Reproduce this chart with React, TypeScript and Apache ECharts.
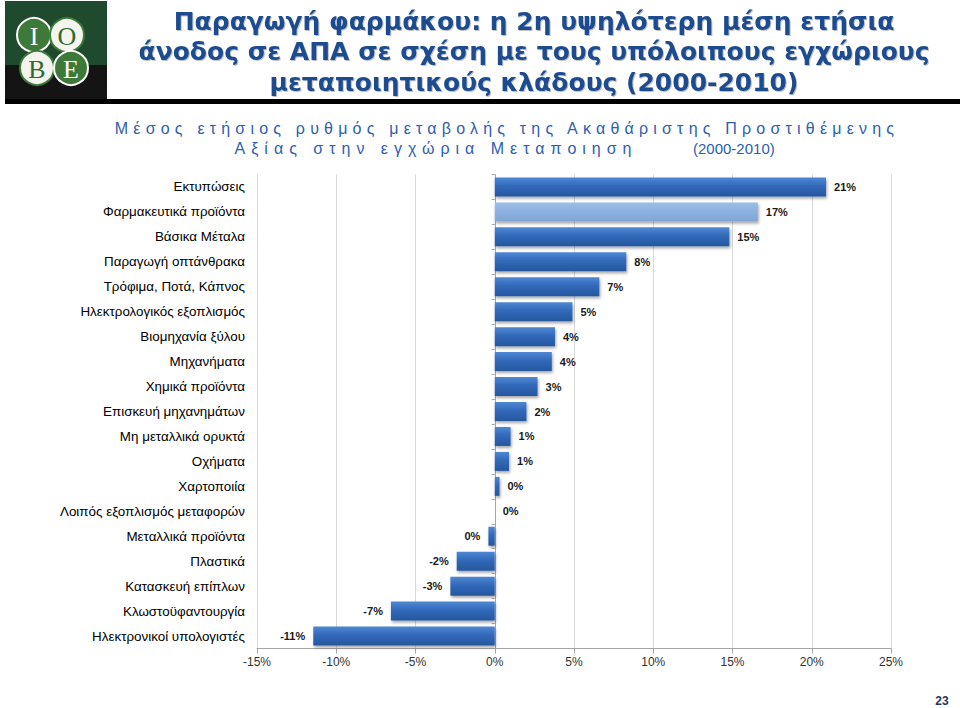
import { useEffect, useRef } from "react";
import * as echarts from "echarts";

const categories = [
  "Εκτυπώσεις",
  "Φαρμακευτικά προϊόντα",
  "Βάσικα Μέταλα",
  "Παραγωγή οπτάνθρακα",
  "Τρόφιμα, Ποτά, Κάπνος",
  "Ηλεκτρολογικός εξοπλισμός",
  "Βιομηχανία ξύλου",
  "Μηχανήματα",
  "Χημικά προϊόντα",
  "Επισκευή μηχανημάτων",
  "Μη μεταλλικά ορυκτά",
  "Οχήματα",
  "Χαρτοποιία",
  "Λοιπός εξοπλισμός μεταφορών",
  "Μεταλλικά προϊόντα",
  "Πλαστικά",
  "Κατασκευή επίπλων",
  "Κλωστοϋφαντουργία",
  "Ηλεκτρονικοί υπολογιστές",
];
const growth = [20.9, 16.6, 14.8, 8.3, 6.6, 4.9, 3.8, 3.6, 2.7, 2.0, 1.0, 0.9, 0.3, 0.0, -0.4, -2.4, -2.8, -6.55, -11.45];
const highlighted = "Φαρμακευτικά προϊόντα";
const xMin = -15;
const xMax = 25;
const xStep = 5;

const titleLines = [
  "Παραγωγή φαρμάκου: η 2η υψηλότερη μέση ετήσια",
  "άνοδος σε ΑΠΑ σε σχέση με τους υπόλοιπους εγχώριους",
  "μεταποιητικούς κλάδους (2000-2010)",
];
const subtitle1 = "Μέσος ετήσιος ρυθμός μεταβολής της Ακαθάριστης Προστιθέμενης";
const subtitle2 = "Αξίας στην εγχώρια Μεταποιηση";
const subtitlePeriod = "(2000-2010)";
const pageNumber = "23";

const fmt = (v: number) => {
  const r = Math.round(v);
  return (r === 0 ? 0 : r) + "%";
};

export default function App() {
  const ref = useRef<HTMLDivElement>(null);
  useEffect(() => {
    if (!ref.current) return;
    const chart = echarts.init(ref.current, null, { renderer: "svg" });

    const darkGrad = new echarts.graphic.LinearGradient(0, 0, 0, 1, [
      { offset: 0, color: "#4f88d4" },
      { offset: 0.45, color: "#3269b9" },
      { offset: 1, color: "#25579e" },
    ]);
    const lightGrad = new echarts.graphic.LinearGradient(0, 0, 0, 1, [
      { offset: 0, color: "#9dbde6" },
      { offset: 0.5, color: "#8cb0df" },
      { offset: 1, color: "#7fa5d7" },
    ]);

    const data = growth.map((v, i) => ({
      value: v,
      itemStyle: { color: categories[i] === highlighted ? lightGrad : darkGrad },
      label: { position: v < 0 ? "left" : "right" },
    }));

    const titleFont = "'DejaVu Sans', Verdana, sans-serif";
    const titleGraphics = titleLines.map((t, i) => ({
      type: "text",
      x: 534,
      y: 21 + i * 30.5,
      style: {
        text: t,
        fill: "#1d4c8f",
        font: `bold 25px ${titleFont}`,
        textAlign: "center",
        textVerticalAlign: "middle",
        textShadowColor: "rgba(0,0,0,0.25)",
        textShadowOffsetX: 1,
        textShadowOffsetY: 1,
        textShadowBlur: 1,
      },
    }));

    const subColor = "#2d5eb0";
    chart.setOption({
      animation: false,
      backgroundColor: "#ffffff",
      grid: { left: 257, right: 69, top: 174.5, bottom: 59.5, containLabel: false },
      xAxis: {
        type: "value",
        min: xMin,
        max: xMax,
        interval: xStep,
        axisLine: { show: true, lineStyle: { color: "#a6a6a6", width: 1 } },
        axisTick: { show: true, length: 5, lineStyle: { color: "#a6a6a6" } },
        axisLabel: {
          formatter: (v: number) => v + "%",
          color: "#333333",
          fontSize: 12,
          fontFamily: "'Liberation Sans', Arial, sans-serif",
          margin: 7,
        },
        splitLine: { show: true, lineStyle: { color: "#d9d9d9", width: 1 } },
      },
      yAxis: [
        {
          type: "category",
          data: categories,
          inverse: true,
          position: "left",
          axisLine: { show: false, onZero: false },
          axisTick: { show: false },
          axisLabel: {
            color: "#000000",
            fontSize: 13.4,
            fontFamily: "'Liberation Sans', Arial, sans-serif",
            margin: 12,
          },
        },
        {
          type: "category",
          data: categories,
          inverse: true,
          position: "left",
          axisLine: { show: true, onZero: true, lineStyle: { color: "#a6a6a6" } },
          axisTick: { show: true, length: 3, lineStyle: { color: "#a6a6a6" } },
          axisLabel: { show: false },
        },
      ],
      series: [
        {
          type: "bar",
          yAxisIndex: 0,
          data,
          barWidth: 19,
          itemStyle: {
            shadowColor: "rgba(0,0,0,0.35)",
            shadowBlur: 3,
            shadowOffsetX: 1,
            shadowOffsetY: 2,
          },
          label: {
            show: true,
            distance: 8,
            formatter: (p: any) => fmt(p.value),
            color: "#1a1a1a",
            fontSize: 11,
            fontWeight: "bold",
            fontFamily: "'Liberation Sans', Arial, sans-serif",
          },
        },
      ],
      graphic: [
        // logo
        { type: "rect", shape: { x: 5, y: 1, width: 102, height: 64 }, style: { fill: "#1f4a2d" } },
        { type: "rect", shape: { x: 5, y: 65, width: 102, height: 34 }, style: { fill: "#141414" } },
        { type: "circle", shape: { cx: 34, cy: 35, r: 17 }, style: { fill: "#3d7a3a", stroke: "#ffffff", lineWidth: 2 } },
        { type: "circle", shape: { cx: 67, cy: 35, r: 17 }, style: { fill: "#f4f4ee", stroke: "#3d7a3a", lineWidth: 2 } },
        { type: "circle", shape: { cx: 37, cy: 68, r: 17 }, style: { fill: "#f4f4ee", stroke: "#3d7a3a", lineWidth: 2 } },
        { type: "circle", shape: { cx: 71, cy: 68, r: 17 }, style: { fill: "#3d7a3a", stroke: "#ffffff", lineWidth: 2 } },
        { type: "text", x: 34, y: 36, style: { text: "I", fill: "#ffffff", font: "26px 'Liberation Serif', serif", textAlign: "center", textVerticalAlign: "middle" } },
        { type: "text", x: 67, y: 36, style: { text: "O", fill: "#2f6b30", font: "26px 'Liberation Serif', serif", textAlign: "center", textVerticalAlign: "middle" } },
        { type: "text", x: 37, y: 69, style: { text: "B", fill: "#2f6b30", font: "26px 'Liberation Serif', serif", textAlign: "center", textVerticalAlign: "middle" } },
        { type: "text", x: 71, y: 69, style: { text: "E", fill: "#ffffff", font: "26px 'Liberation Serif', serif", textAlign: "center", textVerticalAlign: "middle" } },
        // black bar under title
        { type: "rect", shape: { x: 5, y: 99, width: 955, height: 5 }, style: { fill: "#000000" } },
        ...titleGraphics,
        {
          type: "text",
          x: 507,
          y: 128,
          style: { text: subtitle1, fill: subColor, font: "16px 'Liberation Sans', Arial, sans-serif", textAlign: "center", textVerticalAlign: "middle" },
        },
        {
          type: "text",
          x: 436,
          y: 148,
          style: { text: subtitle2, fill: subColor, font: "16px 'Liberation Sans', Arial, sans-serif", textAlign: "center", textVerticalAlign: "middle" },
        },
        {
          type: "text",
          x: 693,
          y: 148,
          style: { text: subtitlePeriod, fill: subColor, font: "15px 'Liberation Sans', Arial, sans-serif", textAlign: "left", textVerticalAlign: "middle" },
        },
        {
          type: "text",
          x: 942,
          y: 701,
          style: { text: pageNumber, fill: "#1f3864", font: "bold 12px 'Liberation Sans', Arial, sans-serif", textAlign: "center", textVerticalAlign: "middle" },
        },
      ],
    });

    const spaceOut = () => {
      const texts = ref.current?.querySelectorAll("text") || [];
      texts.forEach((t) => {
        const c = t.textContent || "";
        if (c === subtitle1) t.setAttribute("letter-spacing", "5.2px");
        if (c === subtitle2) t.setAttribute("letter-spacing", "6px");
      });
    };
    spaceOut();
    chart.on("finished", spaceOut);

    return () => chart.dispose();
  }, []);
  return <div ref={ref} style={{ width: 960, height: 708, position: "absolute", left: 0, top: 0 }} />;
}
